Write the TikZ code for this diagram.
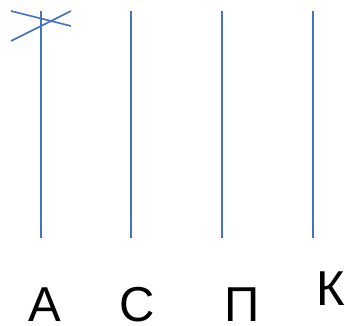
\documentclass[tikz,border=0pt]{standalone}
\usepackage{fontspec}
\setmainfont{Liberation Sans}
\definecolor{lineblue}{RGB}{68,114,196}
\begin{document}
\begin{tikzpicture}[x=1pt,y=-1pt,
  stroke/.style={draw=lineblue, line width=1.6pt},
  lbl/.style={anchor=base, inner sep=0pt, font=\fontsize{49}{49}\selectfont}]
\useasboundingbox (0,0) rectangle (345,325);
\foreach \n/\x in {a/41,b/131,c/222,d/313}{
  \coordinate (\n top) at (\x,11);
  \coordinate (\n bot) at (\x,238);
  \draw[stroke] (\n top) -- (\n bot);
}
\coordinate (x1) at (11,11);
\coordinate (x2) at (71,26);
\coordinate (x3) at (11,41);
\coordinate (x4) at (71,11);
\draw[stroke] (x1) -- (x2);
\draw[stroke] (x3) -- (x4);
\node[lbl] (la) at (45,321) {А};
\node[lbl] (lc) at (137,321) {С};
\node[lbl] (lp) at (242,321) {П};
\node[lbl] (lk) at (331,305) {К};
\end{tikzpicture}
\end{document}
